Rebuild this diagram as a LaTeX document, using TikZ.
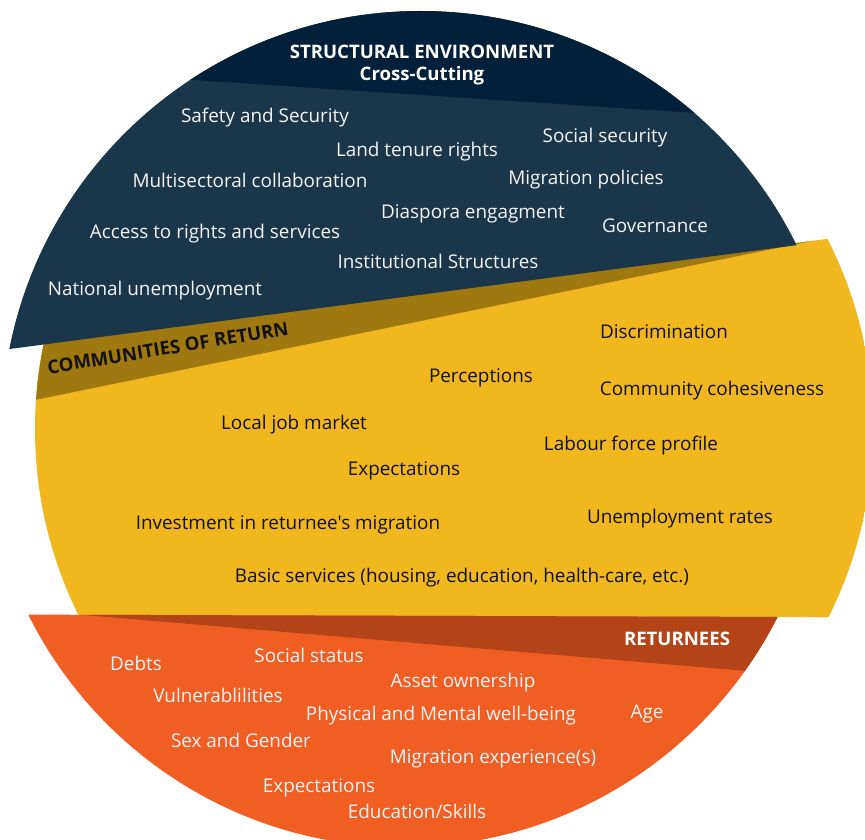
\documentclass[tikz,border=0pt]{standalone}
\usepackage{fontspec}
\setmainfont{Open Sans}[Ligatures=TeXOff]
\begin{document}
\begin{tikzpicture}[x=1pt,y=-1pt,
  lbl/.style={anchor=base,inner sep=0pt,font=\fontsize{18.9}{22}\selectfont},
  lightlbl/.style={lbl,text=textlight},
  darklbl/.style={lbl,text=textdark},
  headlbl/.style={anchor=base,inner sep=0pt,font=\fontsize{18.6}{22}\selectfont\bfseries},
]
\definecolor{navybody}{HTML}{19364A}
\definecolor{navyhead}{HTML}{03203A}
\definecolor{gold}{HTML}{F1B71F}
\definecolor{golddark}{HTML}{A07810}
\definecolor{orangebody}{HTML}{F05E24}
\definecolor{rust}{HTML}{B44417}
\definecolor{textlight}{HTML}{F4F4F4}
\definecolor{textdark}{HTML}{111111}

\useasboundingbox (0,0) rectangle (865,840);
\begin{scope}
\clip (0,0) rectangle (865,840);

% middle slice: communities of return (shifted right)
\begin{scope}
  \clip (454,429) circle (419);
  \clip (-10,349.5) -- (900,229.3) -- (900,617.5) -- (-10,614.8) -- cycle;
  \fill[gold] (-10,-10) rectangle (900,900);
  \fill[golddark] (-10,-10) -- (900,-10) -- (900,222.9) -- (-10,409.2) -- cycle;
\end{scope}

% top slice: structural environment
\begin{scope}
  \clip (420.5,430) circle (419);
  \fill[navybody] (-10,-10) -- (900,-10) -- (900,231.5) -- (-10,351.6) -- cycle;
  \fill[navyhead] (-10,-10) -- (900,-10) -- (900,126.4) -- (-10,66.7) -- cycle;
\end{scope}

% bottom slice: returnees
\begin{scope}
  \clip (403.5,428) circle (419);
  \fill[orangebody] (-10,614.5) -- (900,617.3) -- (900,900) -- (-10,900) -- cycle;
  \clip (-10,614.5) -- (900,617.3) -- (900,900) -- (-10,900) -- cycle;
  \fill[rust] (-10,-10) -- (900,-10) -- (900,683.9) -- (-10,607.1) -- cycle;
\end{scope}
\end{scope}

% headings
\node[headlbl,text=white] (hStruct) at (422,59) {STRUCTURAL ENVIRONMENT};
\node[headlbl,text=white] (hCross) at (422,81) {Cross-Cutting};
\node[headlbl,text=textdark,rotate=9.3] (hComm) at (169,354.5) {COMMUNITIES OF RETURN};
\node[headlbl,text=white] (hRet) at (677,645) {RETURNEES};

% structural environment factors
\node[lightlbl] (sSafety) at (265,123) {Safety and Security};
\node[lightlbl] (sLand) at (417,157) {Land tenure rights};
\node[lightlbl] (sSocial) at (605,143) {Social security};
\node[lightlbl] (sMulti) at (250,187) {Multisectoral collaboration};
\node[lightlbl] (sMigr) at (586,184) {Migration policies};
\node[lightlbl] (sDiasp) at (473,218) {Diaspora engagment};
\node[lightlbl] (sGov) at (655,232) {Governance};
\node[lightlbl] (sAccess) at (215,238) {Access to rights and services};
\node[lightlbl] (sInst) at (438,268) {Institutional Structures};
\node[lightlbl] (sNat) at (155,295) {National unemployment};

% community factors
\node[darklbl] (cDiscr) at (664,338) {Discrimination};
\node[darklbl] (cPerc) at (481,382) {Perceptions};
\node[darklbl] (cCohes) at (712,395) {Community cohesiveness};
\node[darklbl] (cJob) at (294,429) {Local job market};
\node[darklbl] (cLabour) at (631,450) {Labour force profile};
\node[darklbl] (cExpect) at (404,475) {Expectations};
\node[darklbl] (cInvest) at (288,529) {Investment in returnee's migration};
\node[darklbl] (cUnemp) at (680,523) {Unemployment rates};
\node[darklbl] (cBasic) at (462,582) {Basic services (housing, education, health-care, etc.)};

% returnee factors
\node[lightlbl] (rDebts) at (136,670) {Debts};
\node[lightlbl] (rStatus) at (309,662) {Social status};
\node[lightlbl] (rAsset) at (463,687) {Asset ownership};
\node[lightlbl] (rVuln) at (218,702) {Vulnerablilities};
\node[lightlbl] (rHealth) at (441,720) {Physical and Mental well-being};
\node[lightlbl] (rAge) at (647,718) {Age};
\node[lightlbl] (rSex) at (241,747) {Sex and Gender};
\node[lightlbl] (rMigr) at (493,763) {Migration experience(s)};
\node[lightlbl] (rExpect) at (319,792) {Expectations};
\node[lightlbl] (rEdu) at (417,818) {Education/Skills};
\end{tikzpicture}
\end{document}
